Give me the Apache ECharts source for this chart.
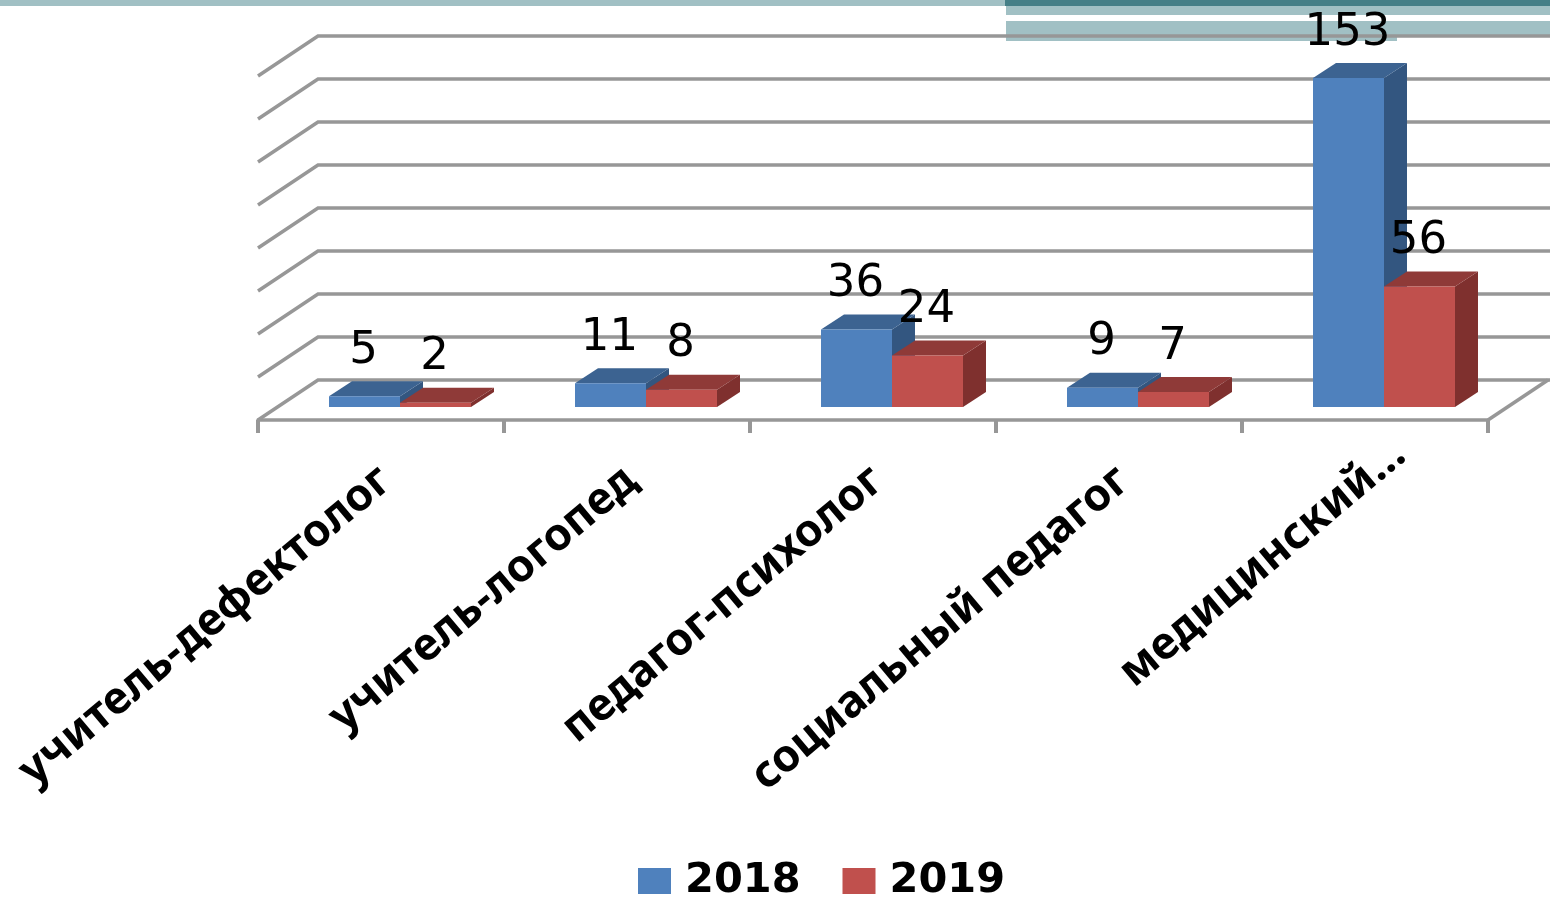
<!DOCTYPE html>
<html><head><meta charset="utf-8">
<script src="https://cdn.jsdelivr.net/npm/echarts@6/dist/echarts.min.js"></script>
<style>html,body{margin:0;padding:0;background:#fff;overflow:hidden}#c{width:1550px;height:901px;filter:blur(.6px)}</style>
</head><body><div id="c"></div>
<script>
const categories = ['учитель-дефектолог','учитель-логопед','педагог-психолог','социальный педагог','медицинский...'];
const seriesNames = ['2018','2019'];
const values2018 = [5,11,36,9,153];
const values2019 = [2,8,24,7,56];
const yTicks = [0,20,40,60,80,100,120,140,160];

const DEPTH_X = 60, DEPTH_Y = 40;
const FRONT_GAP_X = 19, FRONT_GAP_Y = 13, BAR_DX = 23, BAR_DY = 15;
const GRID_COLOR = '#979797';
const LINE = {stroke: GRID_COLOR, lineWidth: 3.5, fill: null};

function wallItem(params, api) {
  const v = api.value(0);
  const cs = params.coordSys;
  const y = api.coord([0, v])[1];
  const x0 = cs.x, x1 = cs.x + cs.width;
  const children = [{
    type: 'polyline',
    shape: {points: [[x0, y], [x0 + DEPTH_X, y - DEPTH_Y], [x1 + DEPTH_X + 4, y - DEPTH_Y]]},
    style: LINE
  }];
  if (v === 0) children.push({
    type: 'line',
    shape: {x1: x1, y1: y, x2: x1 + DEPTH_X, y2: y - DEPTH_Y},
    style: LINE
  });
  return {type: 'group', children};
}

function barItem(side, front, top, dark) {
  return function (params, api) {
    const idx = api.value(0), v = api.value(1);
    const p = api.coord([idx, v]), b = api.coord([idx, 0]);
    const bw = api.size([1, 0])[0] * 0.2886;
    const x0 = p[0] + FRONT_GAP_X + side * bw, x1 = x0 + bw;
    const yt = p[1] - FRONT_GAP_Y, yb = b[1] - FRONT_GAP_Y;
    return {type: 'group', children: [
      {type: 'polygon', shape: {points: [[x1, yt], [x1 + BAR_DX, yt - BAR_DY], [x1 + BAR_DX, yb - BAR_DY], [x1, yb]]}, style: {fill: dark}},
      {type: 'polygon', shape: {points: [[x0, yt], [x0 + BAR_DX, yt - BAR_DY], [x1 + BAR_DX, yt - BAR_DY], [x1, yt]]}, style: {fill: top}},
      {type: 'rect', shape: {x: x0, y: yt, width: bw, height: yb - yt}, style: {fill: front}},
      {type: 'text', z2: 100, style: {text: String(v), x: (x0 + x1) / 2 - 1, y: yt - 45, align: 'center', verticalAlign: 'middle',
        font: '45px "DejaVu Sans"', fill: '#000'}}
    ]};
  };
}

const labelFont = {fontFamily: 'Noto Sans', fontWeight: 'bold', fontSize: 44.5, color: '#000'};
const chart = echarts.init(document.getElementById('c'), null, {renderer: 'canvas'});
chart.setOption({
  animation: false,
  backgroundColor: '#fff',
  grid: {left: 258, width: 1230, top: 76, height: 344},
  graphic: [
    {type: 'rect', z: -10, shape: {x: 0, y: 0, width: 1006, height: 6}, style: {fill: '#a1c0c4'}},
    {type: 'rect', z: -10, shape: {x: 1006, y: 6, width: 544, height: 9}, style: {fill: '#a1c0c4'}},
    {type: 'rect', z: -10, shape: {x: 1005, y: 0, width: 545, height: 6}, style: {fill: '#457f87'}},
    {type: 'rect', z: -10, shape: {x: 1006, y: 21, width: 544, height: 16}, style: {fill: '#a1c0c4'}},
    {type: 'rect', z: -10, shape: {x: 1006, y: 37, width: 391, height: 4}, style: {fill: '#a1c0c4'}}
  ],
  legend: {
    left: 633, top: 855, itemWidth: 33, itemHeight: 26, itemGap: 42,
    icon: 'rect', data: seriesNames,
    textStyle: {fontFamily: 'DejaVu Sans', fontWeight: 'bold', fontSize: 41.5, color: '#000', padding: [0, 0, 0, 9]}
  },
  xAxis: {
    type: 'category', data: categories,
    axisLine: {show: true, lineStyle: {color: GRID_COLOR, width: 3.5}},
    axisTick: {show: true, length: 13, lineStyle: {color: GRID_COLOR, width: 4}},
    axisLabel: {
      rotate: 40, interval: 0, margin: 59, ...labelFont,
      formatter: (value, i) => i === categories.length - 1 ? '{last|' + value + '}' : '{base|' + value + '}',
      rich: {base: {...labelFont, padding: [0, -6, 0, 0]}, last: {...labelFont, padding: [0, -46, 2, 0]}}
    }
  },
  yAxis: {type: 'value', min: 0, max: 160, interval: 20, show: false, splitLine: {show: false}},
  series: [
    {type: 'custom', name: 'wall', z: 1, silent: true, data: yTicks.map(t => [t]), encode: {y: 0}, renderItem: wallItem},
    {type: 'custom', name: seriesNames[0], z: 3, itemStyle: {color: '#4f81bd'},
      data: values2018.map((v, i) => [i, v]), encode: {x: 0, y: 1},
      renderItem: barItem(-1, '#4f81bd', '#3c6391', '#335680')},
    {type: 'custom', name: seriesNames[1], z: 4, itemStyle: {color: '#c0504d'},
      data: values2019.map((v, i) => [i, v]), encode: {x: 0, y: 1},
      renderItem: barItem(0, '#c0504d', '#8f3a38', '#7f302e')}
  ]
});
</script></body></html>
